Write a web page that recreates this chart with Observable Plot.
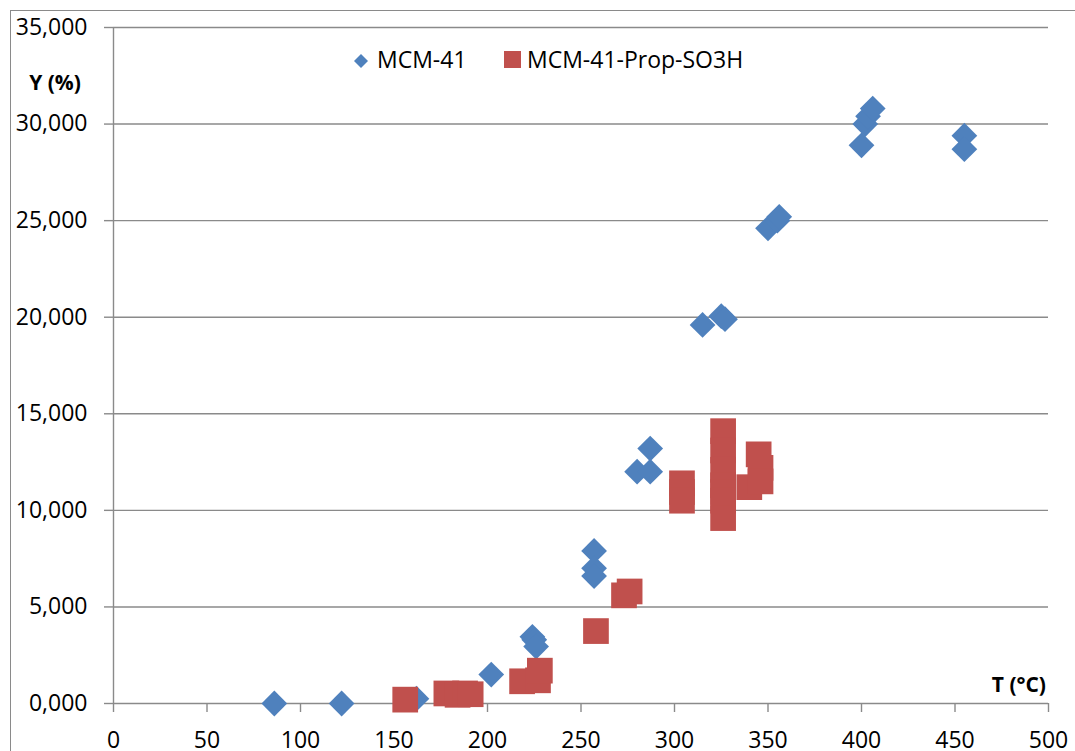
<!DOCTYPE html>
<html>
<head>
<meta charset="utf-8">
<script src="https://cdn.jsdelivr.net/npm/d3@7"></script>
<script src="https://cdn.jsdelivr.net/npm/@observablehq/plot@0.6"></script>
<style>
  html, body { margin: 0; padding: 0; background: #fff; overflow: hidden; }
  #wrap { position: relative; width: 1075px; height: 751px; font-family: "Open Sans", sans-serif; }
  #frame { position: absolute; left: 10px; top: 10px; width: 2000px; height: 2000px;
           border-left: 1.5px solid #8a8a8a; border-top: 1.5px solid #8a8a8a; }
  #chart { position: absolute; left: 0; top: 0; }
  #overlay { position: absolute; left: 0; top: 0; pointer-events: none; }
</style>
</head>
<body>
<div id="wrap">
  <div id="frame"></div>
  <div id="chart"></div>
</div>
<script>
// ---- Data (T in °C, Y in %) ----
const seriesNames = ["MCM-41", "MCM-41-Prop-SO3H"];
const seriesColors = ["#4F81BD", "#C0504D"];

const mcmT = [86, 122, 162, 202, 224, 225, 226, 257, 257, 257, 280, 287, 287, 315, 325, 327, 350, 355, 356, 400, 402, 403.5, 406, 455, 455];
const mcmY = [0, 0, 0.25, 1.5, 3.45, 3.3, 2.95, 7.9, 7.0, 6.6, 12.0, 12.0, 13.2, 19.6, 20.05, 19.9, 24.6, 25.0, 25.2, 28.9, 30.0, 30.4, 30.8, 29.4, 28.7];

const propT = [156, 178, 184, 188, 191, 218.5, 227, 228, 258, 273, 276, 304, 304, 304, 326, 326, 326, 326, 326, 326, 326, 340, 345, 346, 346];
const propY = [0.2, 0.52, 0.45, 0.52, 0.48, 1.15, 1.2, 1.7, 3.75, 5.6, 5.8, 11.4, 10.95, 10.5, 14.1, 13.1, 12.1, 11.3, 10.95, 10.5, 9.6, 11.2, 12.9, 12.2, 11.5];

const xTicks = [0, 50, 100, 150, 200, 250, 300, 350, 400, 450, 500];
const yTicks = [0, 5, 10, 15, 20, 25, 30, 35];

const xLabel = "T (°C)";
const yLabel = "Y (%)";

const mcm = mcmT.map((t, i) => ({T: t, Y: mcmY[i]}));
const prop = propT.map((t, i) => ({T: t, Y: propY[i]}));

const fmt = d => d.toFixed(3).replace(".", ",");
const grey = "#8a8a8a";

const chart = Plot.plot({
  width: 1075,
  height: 751,
  marginLeft: 113,
  marginRight: 27,
  marginTop: 27,
  marginBottom: 48,
  style: { fontFamily: "Open Sans, sans-serif", fontSize: "23px", color: "#000", background: "transparent", overflow: "visible" },
  x: { domain: [0, 500], label: null },
  y: { domain: [0, 35], label: null },
  marks: [
    Plot.gridY(yTicks, { stroke: grey, strokeOpacity: 1, strokeWidth: 1.4 }),
    Plot.ruleX([0], { stroke: grey, strokeWidth: 1.4 }),
    Plot.axisY(yTicks, { tickSize: 9, tickPadding: 17, tickFormat: fmt, stroke: grey, strokeWidth: 1.4, fill: "#000", label: null }),
    Plot.axisX(xTicks, { tickSize: 9, tickPadding: 19, tickFormat: d => String(d), stroke: grey, strokeWidth: 1.4, fill: "#000", label: null }),
    Plot.dot(mcm, { x: "T", y: "Y", symbol: "diamond2", r: 11.6, fill: seriesColors[0], stroke: null }),
    Plot.dot(prop, { x: "T", y: "Y", symbol: "square", r: 14.5, fill: seriesColors[1], stroke: null })
  ]
});
document.getElementById("chart").appendChild(chart);

// ---- Overlay: axis titles and legend ----
const ns = "http://www.w3.org/2000/svg";
const ov = document.createElementNS(ns, "svg");
ov.setAttribute("id", "overlay");
ov.setAttribute("width", 1075);
ov.setAttribute("height", 751);
ov.style.fontFamily = "Open Sans, sans-serif";
function txt(x, y, s, opts = {}) {
  const t = document.createElementNS(ns, "text");
  t.setAttribute("x", x); t.setAttribute("y", y);
  t.setAttribute("font-size", opts.size || 23);
  if (opts.bold) t.setAttribute("font-weight", "bold");
  if (opts.anchor) t.setAttribute("text-anchor", opts.anchor);
  t.setAttribute("fill", "#000");
  t.textContent = s;
  ov.appendChild(t);
}
txt(55, 90, yLabel, { bold: true, anchor: "middle", size: 21 });
txt(1046, 692, xLabel, { bold: true, anchor: "end", size: 21 });

// legend
const dia = document.createElementNS(ns, "path");
dia.setAttribute("d", "M361,54 L368,61 L361,68 L354,61 Z");
dia.setAttribute("fill", seriesColors[0]);
ov.appendChild(dia);
txt(377, 68, seriesNames[0]);
const sq = document.createElementNS(ns, "rect");
sq.setAttribute("x", 504); sq.setAttribute("y", 51);
sq.setAttribute("width", 17); sq.setAttribute("height", 17);
sq.setAttribute("fill", seriesColors[1]);
ov.appendChild(sq);
txt(527, 68, seriesNames[1]);
document.getElementById("wrap").appendChild(ov);
</script>
</body>
</html>
